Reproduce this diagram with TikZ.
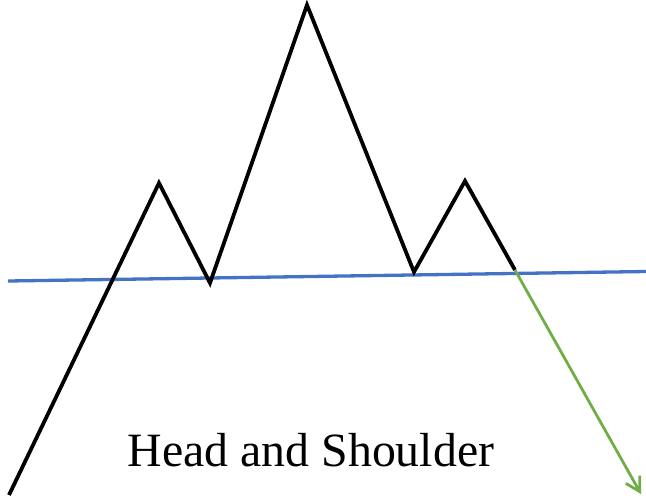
\documentclass[tikz,border=0pt]{standalone}
\usepackage{fontspec}
\setmainfont{Liberation Serif}
\usetikzlibrary{arrows.meta}
\definecolor{neckblue}{RGB}{68,114,196}
\definecolor{arrowgreen}{RGB}{112,173,71}
\tikzset{
  price/.style={black, line width=3.8pt, line join=miter},
  neck/.style={neckblue, line width=3.3pt},
  breakout/.style={arrowgreen, line width=2.8pt, -{Straight Barb[angle=60:16pt]}},
  caption/.style={font=\fontsize{47.8}{50}\selectfont, anchor=base, inner sep=0pt}
}
\begin{document}
\begin{tikzpicture}[x=1pt,y=-1pt]
\useasboundingbox (0,0) rectangle (646,499);
\coordinate (s) at (9,495);
\coordinate (ls) at (159,183);
\coordinate (v1) at (210,283);
\coordinate (hd) at (307,5);
\coordinate (v2) at (414,272);
\coordinate (rs) at (465,181);
\coordinate (e) at (515,270);
\coordinate (nl) at (8,281);
\coordinate (nr) at (646,271.5);
\coordinate (tip) at (641,494);
\draw[neck] (nl) -- (nr);
\draw[price] (s) -- (ls) -- (v1) -- (hd) -- (v2) -- (rs) -- (e);
\draw[breakout] (e) -- (tip);
\node[caption] (cap) at (311,466) {Head and Shoulder};
\end{tikzpicture}
\end{document}
